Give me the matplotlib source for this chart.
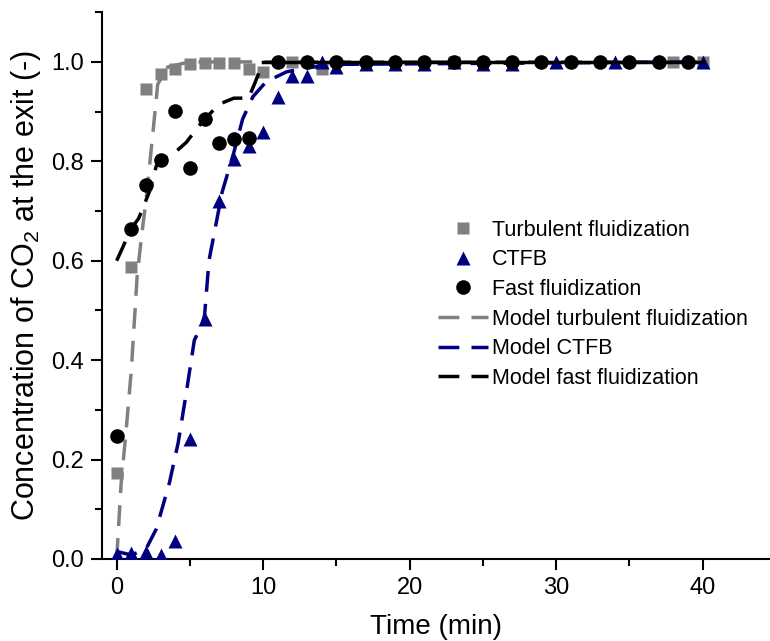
import numpy as np
import matplotlib
matplotlib.use('Agg')
import matplotlib.pyplot as plt
from matplotlib.ticker import MultipleLocator

plt.rcParams['font.family'] = ['Liberation Sans', 'DejaVu Sans']
plt.rcParams['mathtext.default'] = 'regular'

# measured data
turb_t = [0, 1, 2, 3, 4, 5, 6, 7, 8, 9, 10, 12, 14, 23, 38, 40]
turb_v = [0.173, 0.587, 0.946, 0.975, 0.986, 0.996, 0.998, 0.998, 0.998, 0.986, 0.98,
          1.0, 0.985, 1.0, 1.0, 1.0]

ctfb_t = [0, 1, 2, 3, 4, 5, 6, 7, 8, 9, 10, 11, 12, 13, 14, 15, 17, 19, 21, 23, 25, 27, 30, 34, 40]
ctfb_v = [0.01, 0.012, 0.013, 0.008, 0.036, 0.242, 0.482, 0.72, 0.805, 0.83, 0.859, 0.93,
          0.972, 0.972, 1.0, 0.99, 0.995, 0.995, 0.995, 1.0, 0.995, 0.995, 1.0, 1.0, 1.0]

fast_t = [0, 1, 2, 3, 4, 5, 6, 7, 8, 9, 11, 13, 15, 17, 19, 21, 23, 25, 27, 29, 31, 33, 35, 37, 39]
fast_v = [0.248, 0.663, 0.752, 0.803, 0.901, 0.786, 0.885, 0.837, 0.845, 0.847,
          1.0, 1.0, 1.0, 1.0, 1.0, 1.0, 1.0, 1.0, 1.0, 1.0, 1.0, 1.0, 1.0, 1.0, 1.0]

# model curves
turb_model_t = [0, 0.3, 0.65, 1.0, 1.4, 1.7, 2.0, 2.5, 2.8, 3.5, 5, 10, 40]
turb_model_v = [0.0, 0.15, 0.26, 0.38, 0.57, 0.65, 0.72, 0.865, 0.955, 0.99, 1.0, 1.0, 1.0]

ctfb_model_t = [0, 1, 2, 2.7, 3.6, 4.2, 4.75, 5.3, 5.8, 6.0, 6.3, 7.2, 8.0, 8.6, 9.3, 10.2,
                11.6, 13, 15, 40]
ctfb_model_v = [0.015, 0.008, 0.02, 0.06, 0.153, 0.234, 0.334, 0.44, 0.47, 0.49, 0.6, 0.738,
                0.818, 0.885, 0.93, 0.96, 0.98, 0.988, 0.995, 1.0]

fast_model_t = [0, 1, 1.5, 2.25, 2.7, 2.9, 3.6, 4.75, 5.85, 7.0, 8.0, 9.0, 9.4, 10, 40]
fast_model_v = [0.60, 0.665, 0.685, 0.74, 0.79, 0.805, 0.808, 0.838, 0.88, 0.915, 0.927,
                0.927, 0.955, 1.0, 1.0]

fig = plt.figure(figsize=(7.7, 6.41), dpi=100)
ax = fig.add_axes([0.1325, 0.128, 0.8675, 0.853])

gray = '#808080'
navy = '#000080'
dash = (0, (6, 3.5))

ax.plot(turb_t, turb_v, 's', color=gray, ms=8.5, mec='none', label='Turbulent fluidization', zorder=3)
ax.plot(ctfb_t, ctfb_v, '^', color=navy, ms=10, mec='none', label='CTFB', zorder=4)
ax.plot(fast_t, fast_v, 'o', color='black', ms=10.5, mec='none', label='Fast fluidization', zorder=5)

ax.plot(turb_model_t, turb_model_v, color=gray, lw=2.5, linestyle=dash,
        label='Model turbulent fluidization', zorder=3.5)
ax.plot(ctfb_model_t, ctfb_model_v, color=navy, lw=2.5, linestyle=dash,
        label='Model CTFB', zorder=4.5)
i10 = fast_model_t.index(10)
ax.plot(fast_model_t[:i10 + 1], fast_model_v[:i10 + 1], color='black', lw=2.5, linestyle=dash,
        label='Model fast fluidization', zorder=5.5)
ax.plot(fast_model_t[i10:], fast_model_v[i10:], color='black', lw=2.5, zorder=5.5)

ax.set_xlim(-1, 44.6)
ax.set_ylim(0, 1.1)
ax.xaxis.set_major_locator(MultipleLocator(10))
ax.xaxis.set_minor_locator(MultipleLocator(5))
ax.yaxis.set_major_locator(MultipleLocator(0.2))
ax.yaxis.set_minor_locator(MultipleLocator(0.1))
ax.yaxis.set_major_formatter(matplotlib.ticker.FormatStrFormatter('%.1f'))

for s in ['top', 'right']:
    ax.spines[s].set_visible(False)
for s in ['left', 'bottom']:
    ax.spines[s].set_linewidth(1.5)
ax.tick_params(which='major', direction='out', length=8, width=1.5, labelsize=17, pad=5)
ax.tick_params(which='minor', direction='out', length=5, width=1.5)

ax.set_xlabel('Time (min)', fontsize=20, labelpad=11)
ax.set_ylabel('Concentration of CO$_2$ at the exit (-)', fontsize=22, labelpad=6)

ax.legend(loc='upper left', bbox_to_anchor=(0.555, 0.674), bbox_transform=fig.transFigure,
          frameon=False, fontsize=15.5, handlelength=2.3, handletextpad=0.2,
          labelspacing=0.4, borderpad=0)

fig.savefig('out.png', dpi=100)
